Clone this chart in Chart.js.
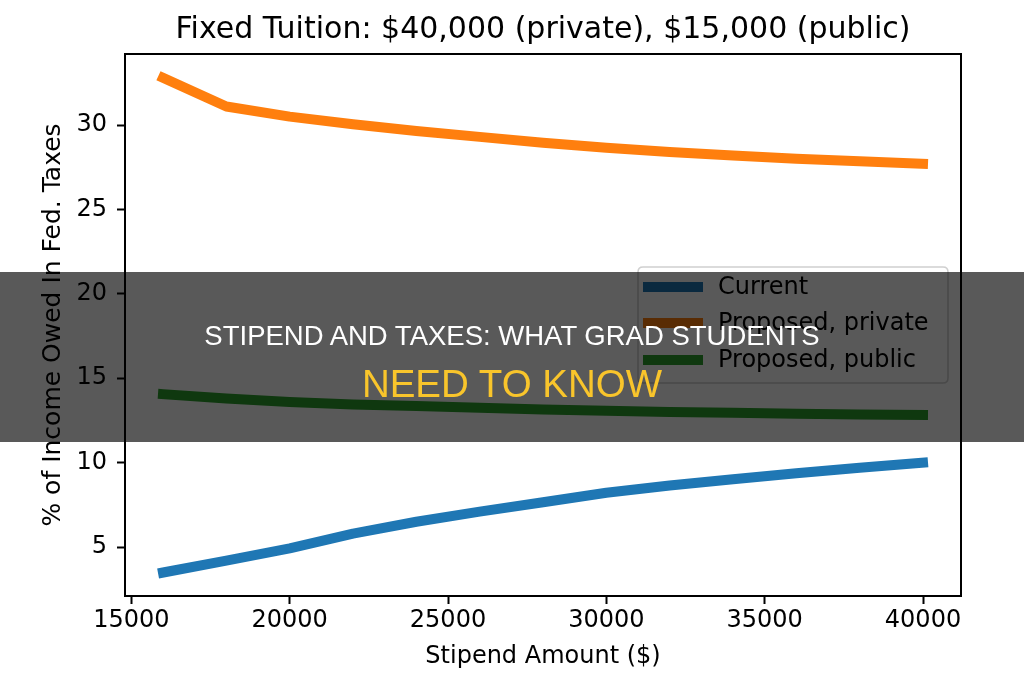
<!DOCTYPE html>
<html>
<head>
<meta charset="utf-8">
<script src="https://cdn.jsdelivr.net/npm/chart.js@4/dist/chart.umd.min.js"></script>
<style>
  html, body { margin: 0; padding: 0; background: #fff; }
  #wrap { position: relative; width: 1024px; height: 683px; overflow: hidden; }
  #c { position: absolute; left: 0; top: 0; }
  #band { position: absolute; left: 0; top: 272px; width: 1024px; height: 170px; background: rgba(0,0,0,0.65); }
  .hl { position: absolute; left: 0; width: 1024px; text-align: center; font-family: "Liberation Sans", Arial, sans-serif; line-height: 1; white-space: nowrap; }
  #h1 { top: 321.5px; font-size: 27.5px; color: #ffffff; }
  #h2 { top: 364.5px; font-size: 38.5px; color: #f9c52b; }
</style>
</head>
<body>
<div id="wrap">
  <canvas id="c" width="1024" height="683"></canvas>
  <div id="band"></div>
  <div id="h1" class="hl">STIPEND AND TAXES: WHAT GRAD STUDENTS</div>
  <div id="h2" class="hl">NEED TO KNOW</div>
</div>
<script>
// ---- data ----
const stipends = [16000, 18000, 20000, 22000, 24000, 26000, 28000, 30000, 32000, 34000, 36000, 38000, 40000];
const currentPct = [3.49, 4.2, 4.92, 5.8, 6.5, 7.1, 7.65, 8.22, 8.65, 9.02, 9.37, 9.7, 10.0];
const privatePct = [32.8, 31.1, 30.5, 30.05, 29.65, 29.3, 28.95, 28.65, 28.4, 28.2, 28.0, 27.85, 27.7];
const publicPct  = [14.06, 13.8, 13.6, 13.45, 13.35, 13.25, 13.15, 13.07, 13.0, 12.95, 12.9, 12.86, 12.82];
const xTickValues = [15000, 20000, 25000, 30000, 35000, 40000];
const yTickValues = [5, 10, 15, 20, 25, 30];
const seriesNames = ["Current", "Proposed, private", "Proposed, public"];
const seriesColors = ["#1f77b4", "#ff7f0e", "#2ca02c"];
const titleText = "Fixed Tuition: $40,000 (private), $15,000 (public)";
const xLabel = "Stipend Amount ($)";
const yLabel = "% of Income Owed In Fed. Taxes";

function pts(ys) { return stipends.map((x, i) => ({x: x, y: ys[i]})); }

Chart.defaults.color = '#000';
Chart.defaults.font.family = '"DejaVu Sans", sans-serif';

const spinePlugin = {
  id: 'spines',
  afterDatasetsDraw(chart) {
    const {ctx, chartArea: a} = chart;
    ctx.save();
    ctx.strokeStyle = '#000';
    ctx.lineWidth = 2;
    ctx.strokeRect(a.left, a.top, a.right - a.left, a.bottom - a.top);
    ctx.restore();
  }
};

const legendPlugin = {
  id: 'boxLegend',
  afterDatasetsDraw(chart) {
    const ctx = chart.ctx;
    const bx = 638, by = 267, bw = 310, bh = 116, r = 5;
    ctx.save();
    ctx.beginPath();
    ctx.moveTo(bx + r, by);
    ctx.lineTo(bx + bw - r, by);
    ctx.quadraticCurveTo(bx + bw, by, bx + bw, by + r);
    ctx.lineTo(bx + bw, by + bh - r);
    ctx.quadraticCurveTo(bx + bw, by + bh, bx + bw - r, by + bh);
    ctx.lineTo(bx + r, by + bh);
    ctx.quadraticCurveTo(bx, by + bh, bx, by + bh - r);
    ctx.lineTo(bx, by + r);
    ctx.quadraticCurveTo(bx, by, bx + r, by);
    ctx.closePath();
    ctx.fillStyle = 'rgba(255,255,255,0.8)';
    ctx.fill();
    ctx.strokeStyle = '#d0d0d0';
    ctx.lineWidth = 1.5;
    ctx.stroke();
    const rows = [287, 323, 360];
    ctx.font = '24px "DejaVu Sans", sans-serif';
    ctx.textBaseline = 'middle';
    ctx.textAlign = 'left';
    chart.data.datasets.forEach((ds, i) => {
      ctx.beginPath();
      ctx.strokeStyle = ds.borderColor;
      ctx.lineWidth = 10;
      ctx.lineCap = 'butt';
      ctx.moveTo(643, rows[i]);
      ctx.lineTo(703, rows[i]);
      ctx.stroke();
      ctx.fillStyle = '#000';
      ctx.fillText(ds.label, 718, rows[i] + 1);
    });
    ctx.restore();
  }
};

new Chart(document.getElementById('c'), {
  type: 'line',
  data: {
    datasets: [
      { label: seriesNames[0], data: pts(currentPct), borderColor: seriesColors[0] },
      { label: seriesNames[1], data: pts(privatePct), borderColor: seriesColors[1] },
      { label: seriesNames[2], data: pts(publicPct), borderColor: seriesColors[2] }
    ].map(d => Object.assign(d, {
      borderWidth: 10, pointRadius: 0, tension: 0, fill: false,
      borderCapStyle: 'square', borderJoinStyle: 'round', backgroundColor: d.borderColor
    }))
  },
  options: {
    responsive: false,
    animation: false,
    devicePixelRatio: 1,
    layout: { padding: { left: 0, right: 63, top: 0, bottom: 0 } },
    plugins: {
      legend: { display: false },
      tooltip: { enabled: false },
      title: {
        display: true, text: titleText, fullSize: false,
        font: { size: 30, weight: 'normal', family: '"DejaVu Sans", sans-serif' },
        color: '#000',
        padding: { top: 12, bottom: 6 }
      }
    },
    scales: {
      x: {
        type: 'linear', min: 14800, max: 41200,
        afterFit(s) { s.height = 87; },
        afterBuildTicks(s) { s.ticks = xTickValues.map(v => ({value: v})); },
        border: { display: false },
        grid: { display: true, drawOnChartArea: false, drawTicks: true, tickLength: 8, tickWidth: 2, tickColor: '#000' },
        ticks: { padding: 2, maxRotation: 0, autoSkip: false,
          font: { size: 24 }, color: '#000', callback: v => String(v) },
        title: { display: true, text: xLabel, font: { size: 24 }, color: '#000', padding: { top: 0, bottom: 12 } }
      },
      y: {
        type: 'linear', min: 2.1, max: 34.21,
        afterFit(s) { s.width = 125; },
        afterBuildTicks(s) { s.ticks = yTickValues.map(v => ({value: v})); },
        border: { display: false },
        grid: { display: true, drawOnChartArea: false, drawTicks: true, tickLength: 8, tickWidth: 2, tickColor: '#000' },
        ticks: { padding: 10, font: { size: 24 }, color: '#000', callback: v => String(v) },
        title: { display: true, text: yLabel, font: { size: 25 }, color: '#000', padding: { top: 38, bottom: 0 } }
      }
    }
  },
  plugins: [spinePlugin, legendPlugin]
});
</script>
</body>
</html>
